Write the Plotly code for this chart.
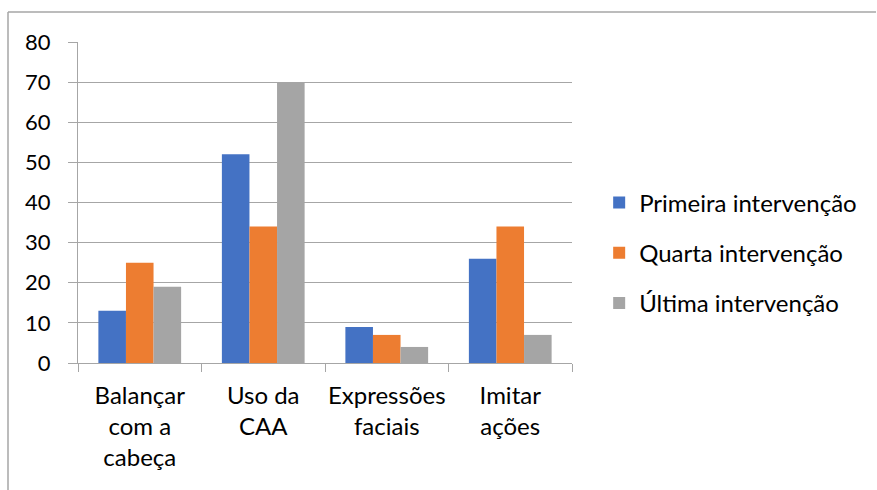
import plotly.graph_objects as go

categories = ["Balançar<br>com a<br>cabeça", "Uso da<br>CAA", "Expressões<br>faciais", "Imitar<br>ações"]
series_names = ["Primeira intervenção", "Quarta intervenção", "Última intervenção"]
primeira = [13, 52, 9, 26]
quarta = [25, 34, 7, 34]
ultima = [19, 70, 4, 7]
colors = ["#4472C4", "#ED7D31", "#A5A5A5"]
y_ticks = [0, 10, 20, 30, 40, 50, 60, 70, 80]

W, H = 877, 490
L, T, R, B = 78, 42, 877 - 572, 490 - 363
pw, ph = W - L - R, H - T - B

fig = go.Figure()
for i, (name, vals) in enumerate(zip(series_names, [primeira, quarta, ultima])):
    fig.add_trace(go.Bar(name=name, x=categories, y=vals, marker_color=colors[i],
                         marker_line_width=0, legendgroup=f"g{i}"))

font = "Lato, 'Noto Sans', sans-serif"
fig.update_layout(
    width=W, height=H,
    margin=dict(l=L, r=R, t=T, b=B, autoexpand=False),
    paper_bgcolor="white", plot_bgcolor="white",
    barmode="group", bargap=0.33, bargroupgap=0,
    font=dict(family=font, size=24, color="#000000"),
    legend=dict(x=1.055, y=(363 - 253) / ph, xanchor="left", yanchor="middle",
                font=dict(size=24, family=font), tracegroupgap=16,
                itemwidth=30),
    showlegend=True,
)
fig.update_yaxes(range=[0, 80], tickvals=y_ticks, showgrid=True, gridcolor="#A6A6A6",
                 gridwidth=1, showline=True, linecolor="#A6A6A6", ticks="outside",
                 ticklen=9, tickcolor="#A6A6A6", zeroline=False, ticklabelstandoff=13,
                 tickfont=dict(size=22, family=font))
fig.update_xaxes(showline=True, linecolor="#A6A6A6", ticks="outside", tickson="boundaries",
                 ticklen=8, tickcolor="#A6A6A6", showgrid=False, ticklabelstandoff=11,
                 tickangle=0, tickfont=dict(size=24, family=font))

# chart border (top and left visible)
x_left = (8 - L) / pw
x_right = (876 - L) / pw
y_top = 1 + (T - 12) / ph
y_bot = -(H - T - ph + 20) / ph
fig.add_shape(type="line", xref="paper", yref="paper", x0=x_left, x1=x_right, y0=y_top, y1=y_top,
              line=dict(color="#A6A6A6", width=1.5))
fig.add_shape(type="line", xref="paper", yref="paper", x0=x_left, x1=x_left, y0=y_top, y1=y_bot,
              line=dict(color="#A6A6A6", width=1.5))

fig.write_html("out.html", config={"displayModeBar": False},
               post_script="document.body.style.margin='0';document.body.style.overflow='hidden';")
